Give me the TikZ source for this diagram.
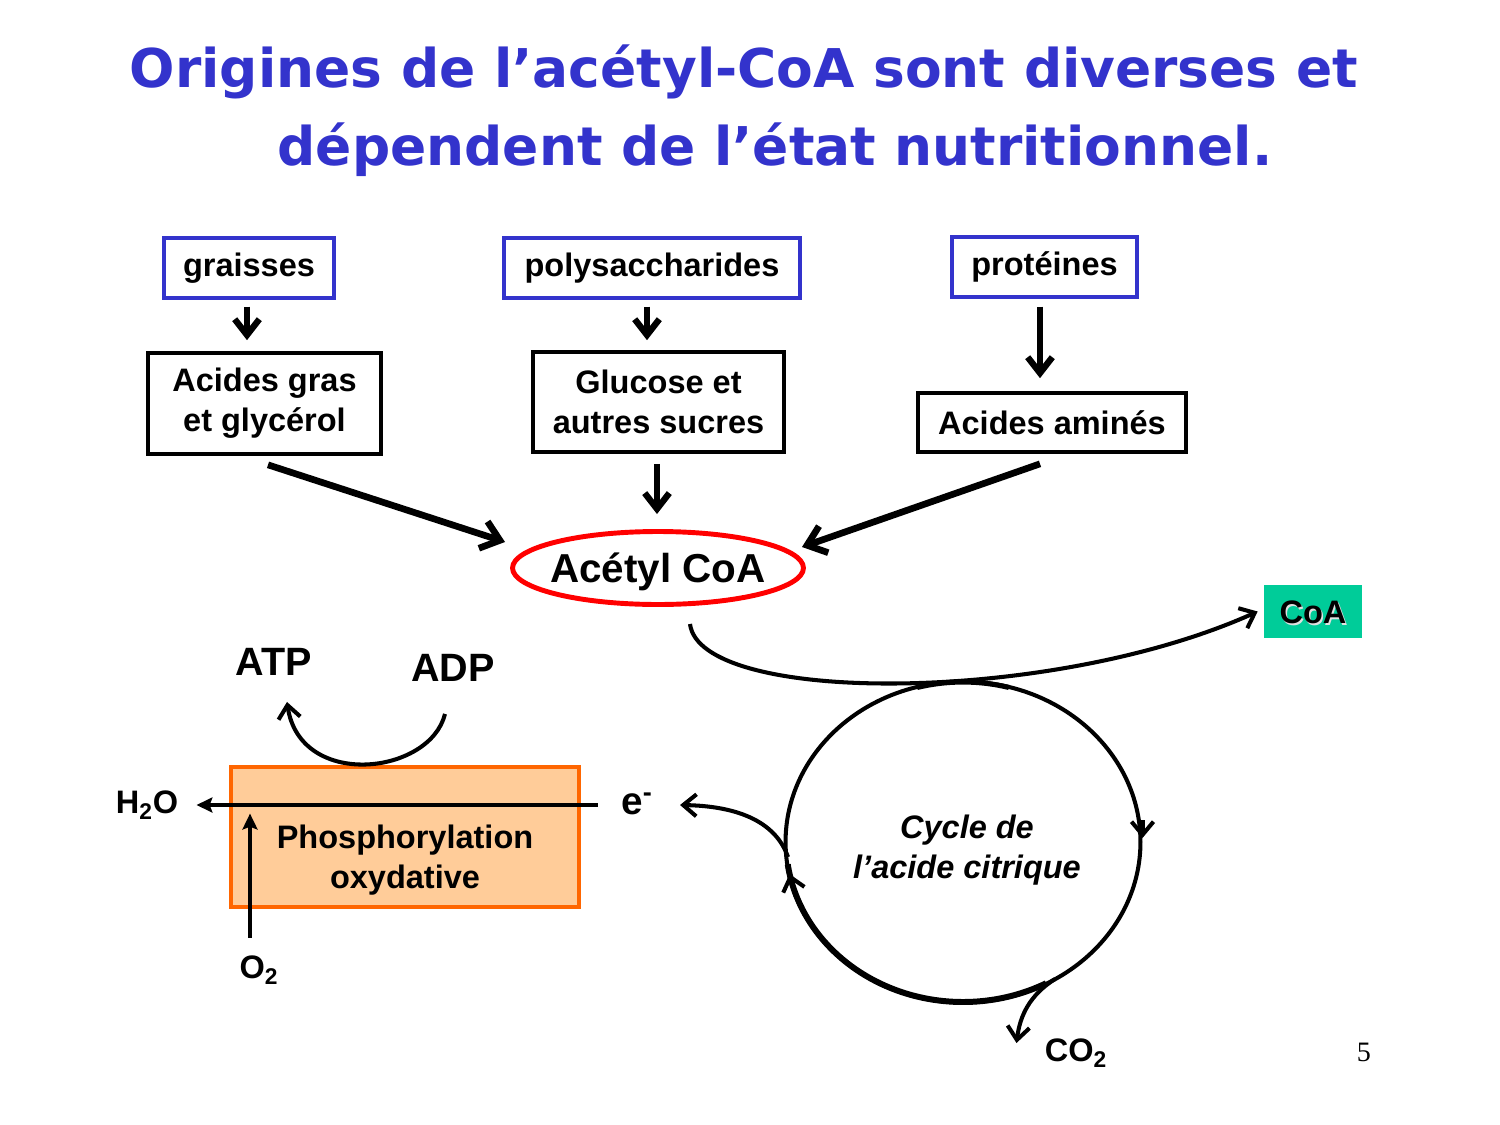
\documentclass[tikz,border=0pt]{standalone}
\usepackage{fontspec}
\setmainfont{Liberation Sans}
\newfontfamily\titlefont{DejaVu Sans}
\newfontfamily\serifnum{Liberation Serif}
\usetikzlibrary{arrows.meta,calc,shapes.geometric}
\definecolor{tblue}{RGB}{51,51,204}
\definecolor{orfill}{RGB}{255,204,153}
\definecolor{ordraw}{RGB}{255,102,0}
\definecolor{coagreen}{RGB}{0,204,153}
\newcommand\fsz[2]{\fontsize{#1}{#2}\selectfont}
\begin{document}
\begin{tikzpicture}[x=0.02cm,y=-0.02cm,
  bluebox/.style={draw=tblue, line width=1.9pt, inner sep=0, font=\fsz{18.5}{22.7}\bfseries},
  blackbox/.style={draw=black, line width=2.1pt, inner sep=0, align=center, font=\fsz{18.5}{22.7}\bfseries},
  lab/.style={inner sep=0, font=\fsz{18.5}{22.7}\bfseries},
  biglab/.style={inner sep=0, font=\fsz{22.5}{27}\bfseries},
  titlestyle/.style={inner sep=0, text=tblue, font=\titlefont\fsz{30.4}{36}\bfseries},
  varr/.style={line width=3.6pt, -{Straight Barb[length=9pt,width=14pt]}},
  darr/.style={line width=3.8pt, -{Straight Barb[length=10pt,width=16pt]}},
  carr/.style={line width=2.3pt, -{Straight Barb[length=7.5pt,width=12.5pt]}},
  tarr/.style={line width=2.5pt, -{Stealth[length=9pt,width=8.5pt,inset=1.5pt]}},
]
\useasboundingbox (0,0) rectangle (1500,1125);

% title
\node[titlestyle] (t1) at (744,72) {Origines de l’acétyl-CoA sont diverses et};
\node[titlestyle] (t2) at (775,150) {dépendent de l’état nutritionnel.};

% sources
\node[bluebox, minimum width=170*0.2mm, minimum height=60*0.2mm] (gr) at (249,268) {graisses};
\node[bluebox, minimum width=296*0.2mm, minimum height=60*0.2mm] (poly) at (652,268) {polysaccharides};
\node[bluebox, minimum width=185*0.2mm, minimum height=60*0.2mm] (prot) at (1044.5,267) {protéines};

\node[blackbox, minimum width=233*0.2mm, minimum height=101*0.2mm] (ag) at (264.5,403.5) {Acides gras\\et glycérol};
\node[blackbox, minimum width=251*0.2mm, minimum height=100*0.2mm] (gl) at (658.5,402) {Glucose et\\autres sucres};
\node[blackbox, minimum width=268*0.2mm, minimum height=59*0.2mm] (aa) at (1052,422.5) {Acides aminés};

\node[ellipse, draw=red, line width=2.8pt, minimum width=291*0.2mm, minimum height=73*0.2mm, inner sep=0] (acoa) at (658,568) {};
\node[inner sep=0, font=\fsz{23}{27}\bfseries] (acoat) at (658,572) {Acétyl CoA};

\draw[varr] ($(gr.south)+(-2,7)$) -- ($(gr.south |- ag.north)+(-2,-11)$);
\draw[varr] ($(poly.south)+(-5,7)$) -- ($(poly.south |- gl.north)+(-5,-10)$);
\draw[varr] ($(prot.south)+(-4.5,8)$) -- ($(prot.south |- aa.north)+(-4.5,-13)$);
\draw[varr] ($(gl.south)+(-1.5,10)$) -- ($(gl.south |- acoa.north)+(-1.5,-15)$);
\draw[darr] ($(ag.south)+(3.5,9)$) -- ($(acoa.center)+(-153,-26)$);
\draw[darr] ($(aa.south)+(-12,10)$) -- ($(acoa.center)+(144,-21)$);

% CoA
\node[fill=coagreen, minimum width=98*0.2mm, minimum height=53*0.2mm, inner sep=0] (coa) at (1313,611.5) {};
\node[lab, text=black!12] (coas) at ($(coa.center)+(1.5,2.5)$) {CoA};
\node[lab] (coat) at ($(coa.center)+(0,1)$) {CoA};
\draw[carr] ($(acoa.center)+(32,56)$) .. controls (700,705) and (1050,705) .. ($(coa.west)+(-6,0)$);

% citric acid cycle
\node[ellipse, draw, line width=2.3pt, minimum width=355*0.2mm, minimum height=321*0.2mm, inner sep=0] (cyc) at (963,842) {};
\node[lab, font=\fsz{18.5}{22.7}\bfseries\itshape, align=center] (cyct) at (967,850) {Cycle de\\l’acide citrique};
\draw[line width=3.4pt] ($(cyc.center)+({177*cos(172)},{160*sin(172)})$) arc[start angle=172,end angle=62,x radius=177,y radius=160];
\draw[line width=2.9pt] ($(cyc.center)+({177*cos(255)},{160*sin(255)})$) arc[start angle=255,end angle=285,x radius=177,y radius=160];
\draw[carr] ($(cyc.east)+(0,-22)$) -- ($(cyc.east)+(0,-4)$);
\draw[carr] ($(cyc.center)+(-167.5,54)$) -- ($(cyc.center)+(-173.5,32)$);

% oxidative phosphorylation
\node[draw=ordraw, fill=orfill, line width=2.3pt, minimum width=348*0.2mm, minimum height=140*0.2mm, inner sep=0] (phos) at (405,837) {};
\node[blackbox, draw=none] (phost) at (405,860) {Phosphorylation\\oxydative};

\node[lab] (h2o) at (147,805) {H\textsubscript{2}O};
\node[inner sep=0, font=\fsz{22}{26}\bfseries] (e) at (637,804) {e\textsuperscript{-}};
\node[lab] (o2) at (259,970) {O\textsubscript{2}};
\node[lab] (co2) at (1076,1053) {CO\textsubscript{2}};
\node[biglab] (atp) at (274,662) {ATP};
\node[biglab] (adp) at (453,668) {ADP};

\draw[tarr] ($(e.west)+(-23,1)$) -- ($(h2o.east)+(18,0)$);
\draw[tarr] ($(o2.north)+(-9,-18)$) -- ($(o2.north)+(-9,-142)$);
\draw[carr] ($(adp.south)+(-8,32)$) .. controls (430,775) and (300,790) .. ($(atp.south)+(13,26)$);
\draw[carr] ($(cyc.center)+(-175,15)$) .. controls (775,820) and (735,806) .. ($(e.east)+(27,1)$);
\draw[carr] ($(cyc.center)+(92,137)$) .. controls (1030,995) and (1020,1015) .. ($(co2.west)+(-28,-10)$);

\node[inner sep=0, font=\serifnum\fsz{16}{19}] (pg) at (1364,1052) {5};
\end{tikzpicture}
\end{document}
